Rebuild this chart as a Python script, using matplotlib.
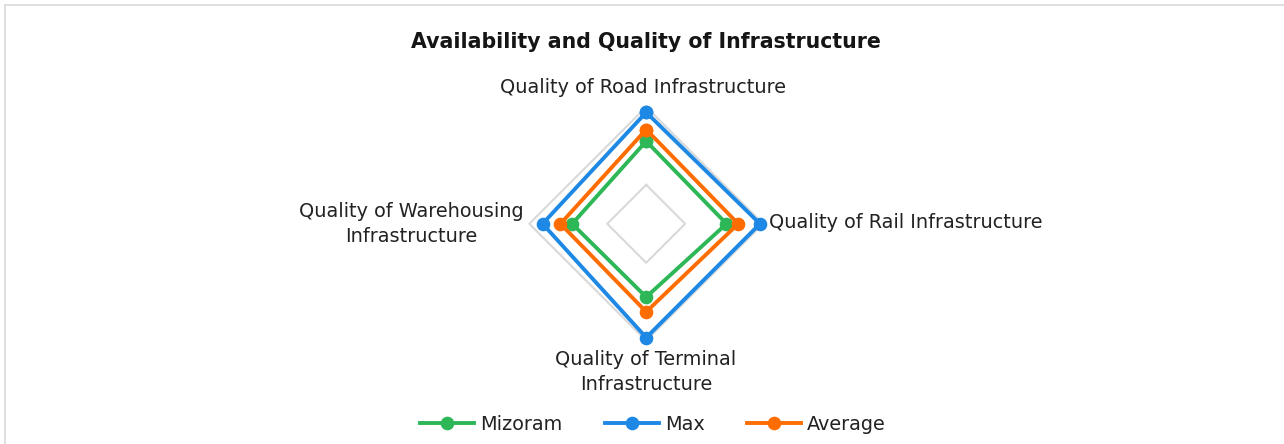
import numpy as np
import matplotlib
matplotlib.use("Agg")
import matplotlib.pyplot as plt
from matplotlib.lines import Line2D

categories = ["Quality of Road Infrastructure", "Quality of Rail Infrastructure",
              "Quality of Terminal\nInfrastructure", "Quality of Warehousing\nInfrastructure"]
series_names = ["Mizoram", "Max", "Average"]
mizoram = [4.56, 4.53, 4.44, 4.45]
max_vals = [4.93, 4.96, 4.96, 4.83]
average = [4.71, 4.68, 4.63, 4.60]
grid_values = [4.0, 5.0]
r_min, r_max = 3.5, 5.0

colors = {"Mizoram": "#2DB757", "Max": "#1E88E5", "Average": "#FF6D00"}
W, H = 1284, 444
plt.rcParams['font.family'] = ['DejaVu Sans']

fig = plt.figure(figsize=(W / 100, H / 100), dpi=100)
fig.patch.set_facecolor("white")

# chart border (top & left visible)
fig.add_artist(Line2D([5 / W, 1], [1 - 5 / H, 1 - 5 / H], color="#d9d9d9", lw=1.2, transform=fig.transFigure))
fig.add_artist(Line2D([5 / W, 5 / W], [0, 1 - 5 / H], color="#d9d9d9", lw=1.2, transform=fig.transFigure))

cx, cy, R = 646.2, 223.8, 116.9
ax = fig.add_axes([(cx - R) / W, (H - cy - R) / H, 2 * R / W, 2 * R / H], projection="polar")
ax.set_theta_offset(np.pi / 2)
ax.set_theta_direction(-1)
ax.set_ylim(r_min, r_max)
ax.grid(False)
ax.set_xticks([])
ax.set_yticks([])
ax.spines["polar"].set_visible(False)
ax.patch.set_alpha(0)

n = len(categories)
theta = np.linspace(0, 2 * np.pi, n, endpoint=False)
theta_c = np.append(theta, theta[0])

for g in grid_values:
    ax.plot(theta_c, [g] * (n + 1), color="#d9d9d9", lw=1.5, zorder=1, clip_on=False)

for name, vals in zip(series_names, [mizoram, max_vals, average]):
    v = list(vals) + [vals[0]]
    ax.plot(theta_c, v, color=colors[name], lw=2.8, marker="o", markersize=8.8,
            label=name, zorder=3, clip_on=False)

# category labels
fs = 13.9
tc = "#222222"
fig.text(643 / W, 1 - 87.5 / H, categories[0], ha="center", va="center", fontsize=fs, color=tc)
fig.text(769 / W, 1 - 222 / H, categories[1], ha="left", va="center", fontsize=fs, color=tc)
fig.text(646 / W, 1 - 372 / H, categories[2], ha="center", va="center", fontsize=fs, color=tc,
         linespacing=1.4)
fig.text(411 / W, 1 - 224 / H, categories[3], ha="center", va="center", fontsize=fs, color=tc,
         linespacing=1.4)

fig.text(646 / W, 1 - 41.5 / H, "Availability and Quality of Infrastructure", ha="center", va="center",
         fontsize=14.8, fontweight="semibold", color="#151515")

handles, labels = ax.get_legend_handles_labels()
fig.legend(handles, labels, loc="center", bbox_to_anchor=(0.5086, 1 - 424 / H), ncol=3, frameon=False,
           fontsize=fs, handlelength=2.8, columnspacing=2.2, handletextpad=0.3, labelcolor=tc)

fig.savefig("out.png", dpi=100, facecolor="white")
